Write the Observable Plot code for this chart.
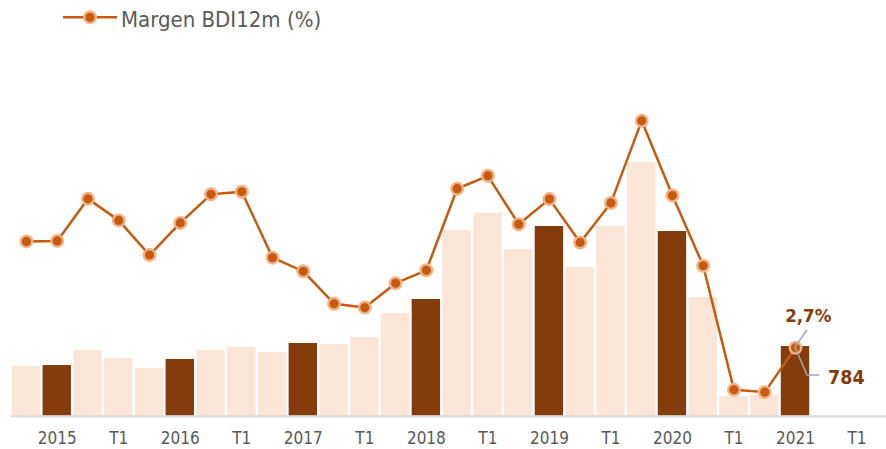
<!DOCTYPE html>
<html>
<head>
<meta charset="utf-8">
<script src="https://cdn.jsdelivr.net/npm/d3@7"></script>
<script src="https://cdn.jsdelivr.net/npm/@observablehq/plot@0.6"></script>
<style>
  body { margin: 0; background: #fff; }
  #wrap { position: relative; width: 886px; height: 449px; }
  #legend { position: absolute; left: 0; top: 0; }
  #legend text { font-family: 'DejaVu Sans Condensed', 'DejaVu Sans', sans-serif; }
</style>
</head>
<body>
<div id="wrap"></div>
<script>
// ---- data ----
const tickLabels = ["2015","T1","2016","T1","2017","T1","2018","T1","2019","T1","2020","T1","2021","T1"];
const barValues = [559,570,739,649,537,638,739,773,717,818,807,885,1155,1313,2089,2284,1875,2134,1673,2134,2854,2078,1335,222,233,784];
const barKind = ["q","y","q","q","q","y","q","q","q","y","q","q","q","y","q","q","q","y","q","q","q","y","q","q","q","y"];
const marginValues = [6.90,6.92,8.58,7.73,6.36,7.63,8.76,8.86,6.26,5.72,4.44,4.29,5.25,5.76,8.98,9.49,7.58,8.57,6.86,8.42,11.66,8.71,5.94,1.04,0.95,2.70];
const legendLabel = "Margen BDI12m (%)";
const marginLabel = "2,7%";
const barLabel = "784";

// ---- build ----
const slotCount = tickLabels.length * 2;
const slots = d3.range(slotCount);
const tickSlots = tickLabels.map((_, i) => i * 2 + 1);
const K = 285; // secondary axis: bar units per margin point
const rows = barValues.map((v, i) => ({slot: i, value: v, kind: barKind[i], margin: marginValues[i]}));
const last = rows[rows.length - 1];
const FONT = "'DejaVu Sans Condensed','DejaVu Sans',sans-serif";

const plot = Plot.plot({
  width: 886,
  height: 449,
  marginTop: 0,
  marginBottom: 33.3,
  marginLeft: 10.6,
  marginRight: 14.1,
  style: {fontFamily: FONT, fontSize: "17px", color: "#595959", background: "transparent", overflow: "visible"},
  x: {type: "band", domain: slots, round: false, paddingInner: 0.077, paddingOuter: 0.0385,
      ticks: tickSlots, tickFormat: i => tickLabels[(i - 1) / 2], tickSize: 0, tickPadding: 16, label: null},
  y: {domain: [0, 4677], axis: null},
  color: {domain: ["q", "y"], range: ["#FBE5D6", "#843C0C"]},
  marks: [
    Plot.barY(rows, {x: "slot", y: "value", fill: "kind"}),
    Plot.ruleY([0], {stroke: "#D9D9D9", strokeWidth: 2, insetLeft: 0.4, insetRight: -14.1}),
    Plot.line(rows, {x: "slot", y: d => d.margin * K, stroke: "#C55A11", strokeWidth: 2.5}),
    Plot.dot(rows, {x: "slot", y: d => d.margin * K, r: 5.8, fill: "#C55A11", stroke: "#F4B183", strokeWidth: 2.4}),
    Plot.text([last], {x: "slot", y: d => d.margin * K, text: () => marginLabel, dx: 12.8, dy: -25.6,
      lineAnchor: "bottom", textAnchor: "middle", fontWeight: "bold", fontSize: 18.5, fill: "#843C0C"}),
    Plot.text([last], {x: "slot", y: d => d.margin * K, text: () => barLabel, dx: 32.6, dy: 36,
      lineAnchor: "bottom", textAnchor: "start", fontWeight: "bold", fontSize: 19.5, fill: "#843C0C"})
  ]
});

// leader lines, positioned through the plot's scales
const sx = plot.scale("x"), sy = plot.scale("y");
const px = sx.apply(last.slot) + sx.bandwidth / 2;
const py = sy.apply(last.margin * K);
const svg = d3.select(plot);
svg.append("path")
  .attr("d", `M${px + 12},${py - 17.3}L${px},${py - 0.5}`)
  .attr("fill", "none").attr("stroke", "#A6A6A6").attr("stroke-width", 1.5);
svg.append("path")
  .attr("d", `M${px},${py}L${px + 12},${py + 27.7}L${px + 24.3},${py + 27.7}`)
  .attr("fill", "none").attr("stroke", "#A6A6A6").attr("stroke-width", 1.5);

const wrap = document.getElementById("wrap");
wrap.appendChild(plot);

// legend
const lg = d3.select(wrap).append("svg").attr("id", "legend").attr("width", 360).attr("height", 40);
lg.append("line").attr("x1", 63).attr("x2", 117).attr("y1", 17.3).attr("y2", 17.3)
  .attr("stroke", "#C55A11").attr("stroke-width", 2.5);
lg.append("circle").attr("cx", 90).attr("cy", 17.3).attr("r", 5.8)
  .attr("fill", "#C55A11").attr("stroke", "#F4B183").attr("stroke-width", 2.4);
lg.append("text").attr("x", 121).attr("y", 26.5).attr("fill", "#595959")
  .attr("font-size", 22).text(legendLabel);
</script>
</body>
</html>
